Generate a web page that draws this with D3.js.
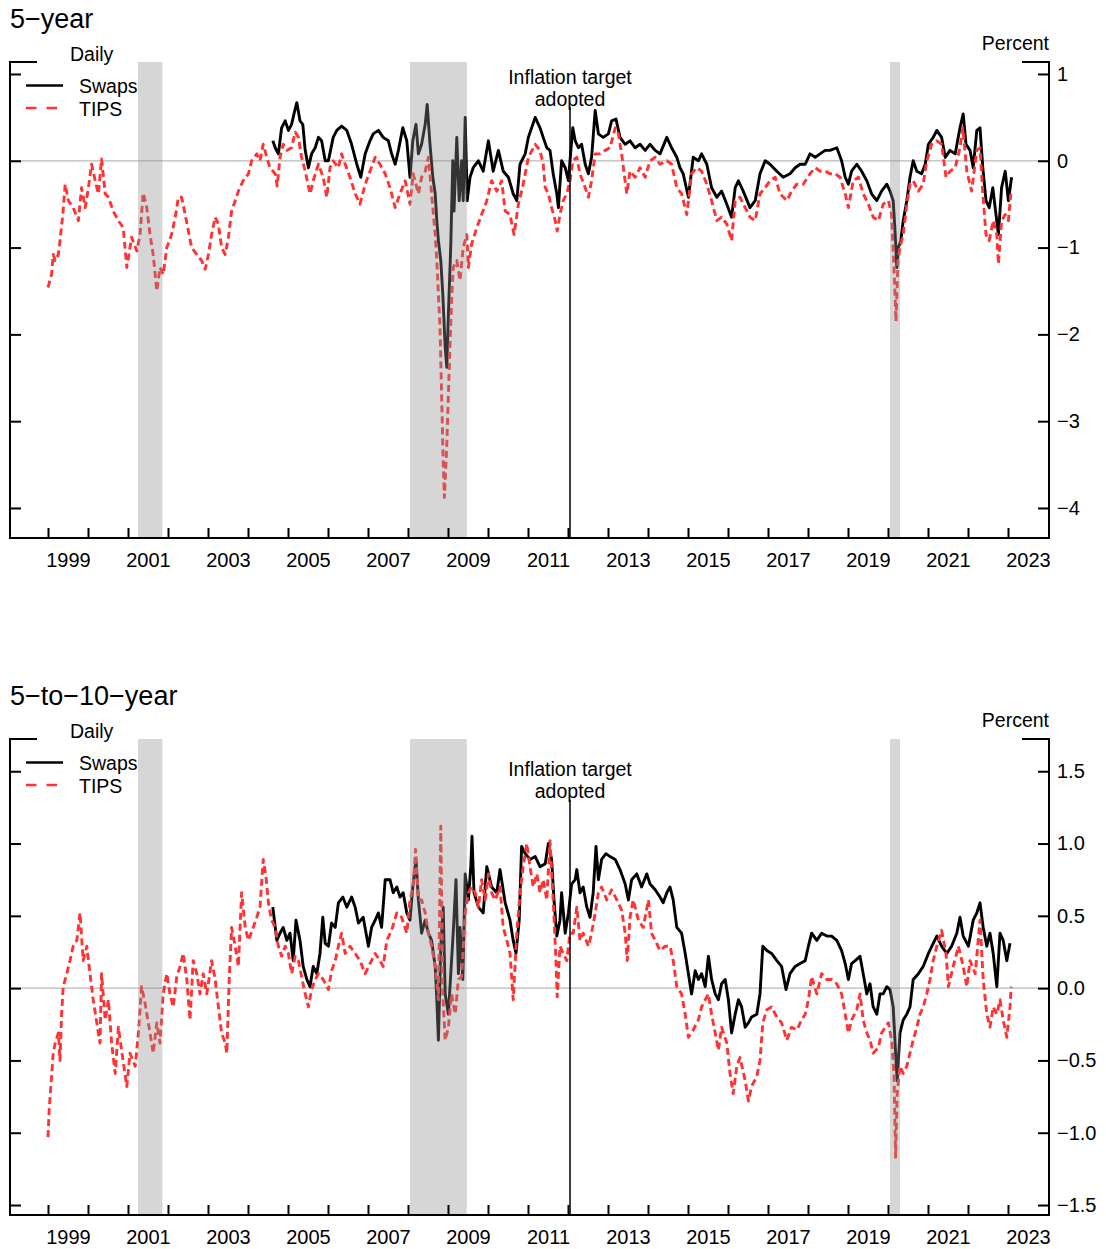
<!DOCTYPE html>
<html>
<head>
<meta charset="utf-8">
<script src="https://cdn.jsdelivr.net/npm/d3@7"></script>
<style>
  html, body { margin: 0; padding: 0; background: #fff; }
  svg { display: block; font-family: "Liberation Sans", Arial, Helvetica, sans-serif; }
</style>
</head>
<body>
<script>
// Inflation compensation, daily, decimal-year dates: [year, percent]
const swaps5 = [
  [2004.62,0.23],[2004.68,0.15],[2004.76,0.08],[2004.84,0.38],[2004.93,0.46],[2005.01,0.35],[2005.09,0.42],[2005.15,0.54],[2005.22,0.67],[2005.30,0.46],[2005.37,0.42],[2005.43,0.12],[2005.51,-0.08],[2005.59,0.08],[2005.68,0.15],[2005.76,0.27],[2005.84,0.23],[2005.93,0],[2006.01,0],[2006.13,0.27],[2006.22,0.35],[2006.34,0.40],[2006.47,0.35],[2006.59,0.19],[2006.72,-0.04],[2006.82,-0.19],[2006.93,0.08],[2007.05,0.23],[2007.13,0.31],[2007.26,0.35],[2007.38,0.27],[2007.51,0.23],[2007.59,0.08],[2007.68,-0.04],[2007.76,0.12],[2007.87,0.38],[2007.97,0.23],[2008.05,-0.19],[2008.12,0.23],[2008.20,0.42],[2008.26,0.08],[2008.34,0.19],[2008.43,0.42],[2008.48,0.65],[2008.55,0.19],[2008.62,-0.19],[2008.68,-0.38],[2008.72,-0.69],[2008.76,-0.92],[2008.82,-1.15],[2008.87,-1.54],[2008.93,-2.15],[2008.97,-2.38],[2009.01,-1.77],[2009.07,-0.96],[2009.12,0],[2009.15,-0.58],[2009.22,0.27],[2009.28,-0.46],[2009.34,0],[2009.38,-0.46],[2009.43,0.5],[2009.48,-0.46],[2009.55,-0.19],[2009.63,-0.08],[2009.76,0],[2009.88,-0.12],[2010.01,0.23],[2010.13,-0.12],[2010.26,0.12],[2010.38,-0.12],[2010.51,-0.19],[2010.63,-0.38],[2010.72,-0.46],[2010.80,-0.04],[2010.93,0.08],[2011.01,0.27],
  [2011.18,0.5],[2011.30,0.38],[2011.38,0.27],[2011.47,0.15],[2011.55,0.12],[2011.63,-0.15],[2011.72,-0.38],[2011.76,-0.54],[2011.84,0],[2011.93,-0.08],[2012.01,-0.23],[2012.05,0],[2012.12,0.38],[2012.18,0.23],[2012.26,0.15],[2012.34,0.19],[2012.43,-0.04],[2012.51,-0.15],[2012.59,0.04],[2012.68,0.58],[2012.76,0.31],[2012.88,0.27],[2013.01,0.31],[2013.09,0.46],[2013.20,0.48],[2013.30,0.27],[2013.43,0.19],[2013.55,0.23],[2013.68,0.15],[2013.80,0.19],[2013.93,0.12],[2014.05,0.19],[2014.18,0.12],[2014.30,0.08],[2014.47,0.27],[2014.59,0.15],[2014.72,0.04],[2014.80,-0.08],[2014.88,-0.15],[2015.01,-0.42],[2015.13,0.04],[2015.26,0],[2015.34,0.08],[2015.47,-0.04],[2015.59,-0.31],[2015.72,-0.42],[2015.84,-0.35],[2015.97,-0.5],[2016.09,-0.65],[2016.18,-0.31],[2016.26,-0.23],[2016.38,-0.35],[2016.55,-0.54],[2016.68,-0.46],[2016.80,-0.15],[2016.93,0],[2017.05,-0.04],[2017.22,-0.12],[2017.38,-0.19],[2017.55,-0.15],[2017.68,-0.08],[2017.80,-0.04],[2017.93,-0.04],[2018.05,0.08],[2018.18,0.04],[2018.30,0.08],[2018.43,0.12],[2018.55,0.12],[2018.72,0.15],[2018.84,0],[2018.93,-0.19],[2019.01,-0.27],[2019.09,-0.12],[2019.22,-0.04],[2019.34,-0.12],[2019.47,-0.23],[2019.59,-0.38],[2019.72,-0.46],[2019.84,-0.35],[2019.97,-0.27],[2020.05,-0.35],[2020.13,-0.46],[2020.18,-0.85],[2020.22,-1.23],[2020.26,-1.0],[2020.32,-0.92],[2020.38,-0.69],[2020.47,-0.46],[2020.55,-0.19],[2020.63,0],[2020.72,-0.12],[2020.84,-0.15],[2020.93,-0.04],[2021.01,0.19],[2021.13,0.27],[2021.22,0.35],[2021.34,0.27],[2021.43,0.04],[2021.55,0.12],[2021.68,0.08],[2021.80,0.38],[2021.88,0.54],[2021.95,0.19],[2022.05,0.12],[2022.13,-0.08],[2022.22,0.35],[2022.30,0.38],[2022.37,-0.08],[2022.45,-0.46],[2022.53,-0.54],[2022.62,-0.31],[2022.70,-0.62],[2022.76,-0.85],[2022.84,-0.31],[2022.93,-0.12],[2023.01,-0.46],[2023.09,-0.19]
];

const tips5 = [
  [1999.00,-1.46],[1999.09,-1.31],[1999.13,-1.08],[1999.18,-1.15],[1999.26,-1.08],[1999.30,-0.92],[1999.37,-0.62],[1999.43,-0.27],[1999.51,-0.46],[1999.63,-0.54],[1999.76,-0.69],[1999.84,-0.31],[1999.93,-0.54],[2000.01,-0.31],[2000.09,-0.04],[2000.18,-0.23],[2000.26,-0.38],[2000.34,0.02],[2000.43,-0.38],[2000.51,-0.42],[2000.63,-0.58],[2000.76,-0.69],[2000.88,-0.77],[2000.97,-1.23],[2001.09,-0.88],[2001.22,-1.04],[2001.30,-0.85],[2001.38,-0.37],[2001.47,-0.54],[2001.55,-0.85],[2001.63,-1.08],[2001.72,-1.5],[2001.80,-1.23],[2001.88,-1.31],[2001.97,-1.0],[2002.09,-0.85],[2002.18,-0.65],[2002.26,-0.42],[2002.34,-0.42],[2002.43,-0.62],[2002.51,-0.81],[2002.59,-1.0],[2002.72,-1.08],[2002.84,-1.15],[2002.93,-1.25],[2003.01,-1.08],[2003.09,-0.85],[2003.18,-0.65],[2003.26,-0.73],[2003.34,-1.0],[2003.43,-1.08],[2003.51,-0.88],[2003.59,-0.58],[2003.68,-0.46],[2003.76,-0.35],[2003.88,-0.23],[2004.01,-0.15],[2004.09,0.0],[2004.22,0.08],[2004.30,0.0],[2004.38,0.19],[2004.47,0.04],[2004.55,-0.08],[2004.68,-0.15],[2004.73,-0.29],[2004.80,0.04],[2004.88,0.19],[2004.97,0.12],[2005.09,0.15],[2005.18,0.33],[2005.26,0.27],[2005.34,0.04],[2005.43,-0.12],[2005.55,-0.38],[2005.63,-0.23],[2005.76,-0.04],[2005.88,-0.19],[2005.97,-0.42],[2006.05,-0.08],[2006.13,0],[2006.26,-0.08],[2006.34,0.08],[2006.43,-0.04],[2006.55,-0.19],[2006.68,-0.38],[2006.80,-0.5],[2006.93,-0.27],[2007.05,-0.12],[2007.18,0.04],[2007.30,-0.04],[2007.43,-0.15],[2007.55,-0.31],[2007.68,-0.54],[2007.80,-0.38],[2007.93,-0.23],[2008.05,-0.5],[2008.13,-0.15],[2008.26,-0.38],[2008.34,-0.19],[2008.43,-0.12],[2008.51,0.04],[2008.59,-0.38],[2008.68,-0.85],[2008.72,-1.15],[2008.76,-1.54],[2008.80,-1.92],[2008.84,-2.69],[2008.88,-3.46],[2008.91,-3.88],[2008.97,-3.27],[2009.01,-2.69],[2009.05,-2.12],[2009.09,-1.62],[2009.13,-1.23],[2009.22,-1.15],[2009.30,-1.38],[2009.38,-1.0],[2009.47,-0.85],[2009.51,-1.23],[2009.59,-0.96],[2009.72,-0.77],[2009.84,-0.62],[2009.97,-0.46],[2010.09,-0.23],[2010.22,-0.35],[2010.34,-0.23],[2010.43,-0.58],[2010.55,-0.62],[2010.65,-0.85],[2010.76,-0.5],[2010.88,-0.27],[2011.01,0.04],
  [2011.18,0.19],[2011.30,0.12],[2011.38,-0.04],[2011.43,-0.31],[2011.51,-0.38],[2011.59,-0.54],[2011.68,-0.69],[2011.73,-0.81],[2011.80,-0.62],[2011.88,-0.46],[2011.97,-0.38],[2012.05,-0.23],[2012.12,0],[2012.22,0.04],[2012.30,-0.15],[2012.43,-0.31],[2012.51,-0.42],[2012.59,-0.23],[2012.68,0.08],[2012.80,0.08],[2012.93,0.12],[2013.05,0.15],[2013.18,0.38],[2013.26,0.31],[2013.34,0.08],[2013.47,-0.38],[2013.55,-0.12],[2013.68,-0.19],[2013.80,-0.08],[2013.93,-0.19],[2014.05,0],[2014.18,0.04],[2014.30,-0.04],[2014.47,0],[2014.59,-0.04],[2014.72,-0.31],[2014.84,-0.38],[2014.97,-0.62],[2015.09,-0.15],[2015.22,-0.08],[2015.34,-0.12],[2015.47,-0.27],[2015.59,-0.46],[2015.72,-0.69],[2015.84,-0.65],[2015.97,-0.73],[2016.09,-0.92],[2016.18,-0.46],[2016.30,-0.42],[2016.43,-0.54],[2016.55,-0.65],[2016.68,-0.69],[2016.80,-0.38],[2016.93,-0.31],[2017.05,-0.23],[2017.18,-0.19],[2017.30,-0.38],[2017.47,-0.46],[2017.59,-0.35],[2017.72,-0.27],[2017.88,-0.27],[2018.05,-0.15],[2018.18,-0.08],[2018.30,-0.12],[2018.43,-0.12],[2018.55,-0.15],[2018.68,-0.15],[2018.80,-0.19],[2018.93,-0.38],[2019.01,-0.54],[2019.13,-0.23],[2019.26,-0.19],[2019.38,-0.38],[2019.51,-0.5],[2019.63,-0.65],[2019.76,-0.69],[2019.88,-0.5],[2020.01,-0.46],[2020.09,-0.62],[2020.15,-1.23],[2020.20,-1.85],[2020.25,-1.15],[2020.30,-1.0],[2020.38,-0.85],[2020.47,-0.5],[2020.55,-0.27],[2020.63,-0.23],[2020.76,-0.35],[2020.88,-0.27],[2020.97,0],[2021.09,0.19],[2021.22,0.23],[2021.34,0.19],[2021.45,-0.19],[2021.55,-0.12],[2021.68,-0.08],[2021.80,0.15],[2021.87,0.38],[2021.97,-0.12],[2022.09,-0.35],[2022.22,0.12],[2022.30,0.15],[2022.37,-0.38],[2022.45,-0.85],[2022.53,-0.92],[2022.63,-0.69],[2022.72,-0.85],[2022.76,-1.19],[2022.84,-0.69],[2022.93,-0.62],[2023.01,-0.69],[2023.07,-0.38]
];

const swaps510 = [
  [2004.62,0.56],[2004.72,0.33],[2004.80,0.38],[2004.88,0.42],[2004.97,0.33],[2005.05,0.38],[2005.13,0.19],[2005.20,0.47],[2005.30,0.33],[2005.38,0.15],[2005.47,0.06],[2005.55,0.01],[2005.63,0.15],[2005.72,0.1],[2005.80,0.24],[2005.87,0.49],[2005.93,0.31],[2006.01,0.29],[2006.09,0.45],[2006.18,0.42],[2006.26,0.59],[2006.37,0.63],[2006.47,0.56],[2006.59,0.63],[2006.68,0.56],[2006.76,0.45],[2006.88,0.49],[2007.01,0.29],[2007.09,0.42],[2007.18,0.47],[2007.26,0.52],[2007.34,0.42],[2007.43,0.75],[2007.55,0.75],[2007.63,0.66],[2007.72,0.7],[2007.80,0.63],[2007.88,0.66],[2007.97,0.52],[2008.05,0.47],[2008.12,0.7],[2008.20,0.89],[2008.26,0.61],[2008.34,0.38],[2008.43,0.47],[2008.51,0.38],[2008.59,0.33],[2008.68,0.15],[2008.72,-0.08],[2008.76,-0.36],[2008.82,0.29],[2008.88,0.56],[2008.93,-0.04],[2009.01,-0.18],[2009.05,0.01],[2009.13,0.38],[2009.20,0.75],[2009.26,0.1],[2009.30,0.42],[2009.37,0.06],[2009.43,0.79],[2009.51,0.61],[2009.57,0.84],[2009.60,1.05],[2009.65,0.66],[2009.76,0.56],[2009.88,0.52],[2009.97,0.84],[2010.09,0.7],[2010.22,0.66],[2010.30,0.82],[2010.43,0.59],[2010.55,0.47],[2010.63,0.33],[2010.70,0.24],[2010.78,0.47],[2010.84,0.98],[2010.93,0.93],
  [2011.05,0.89],[2011.18,0.91],[2011.30,0.84],[2011.43,0.86],[2011.51,1.0],[2011.59,0.89],[2011.65,0.61],[2011.72,0.36],[2011.80,0.47],[2011.84,0.66],[2011.93,0.38],[2012.01,0.52],[2012.09,0.72],[2012.18,0.75],[2012.22,0.82],[2012.30,0.66],[2012.38,0.7],[2012.47,0.56],[2012.55,0.49],[2012.63,0.66],[2012.70,0.98],[2012.76,0.75],[2012.84,0.89],[2012.95,0.93],[2013.05,0.91],[2013.18,0.89],[2013.30,0.82],[2013.43,0.72],[2013.51,0.61],[2013.59,0.75],[2013.72,0.79],[2013.84,0.7],[2013.97,0.79],[2014.05,0.72],[2014.18,0.68],[2014.30,0.63],[2014.38,0.59],[2014.47,0.66],[2014.55,0.7],[2014.63,0.61],[2014.72,0.42],[2014.84,0.38],[2014.93,0.24],[2015.01,0.1],[2015.09,-0.04],[2015.18,0.12],[2015.26,0.06],[2015.34,0.1],[2015.43,0.01],[2015.51,0.22],[2015.59,0.06],[2015.68,-0.04],[2015.76,-0.08],[2015.84,0.03],[2015.93,0.06],[2016.01,-0.08],[2016.09,-0.31],[2016.18,-0.18],[2016.26,-0.08],[2016.34,-0.13],[2016.43,-0.27],[2016.51,-0.24],[2016.59,-0.2],[2016.72,-0.18],[2016.80,-0.04],[2016.87,0.29],[2016.97,0.26],[2017.09,0.24],[2017.22,0.19],[2017.34,0.15],[2017.45,-0.01],[2017.55,0.1],[2017.68,0.15],[2017.80,0.17],[2017.93,0.19],[2018.01,0.29],[2018.09,0.38],[2018.22,0.33],[2018.34,0.38],[2018.47,0.36],[2018.59,0.36],[2018.72,0.33],[2018.84,0.26],[2018.93,0.17],[2019.01,0.06],[2019.09,0.17],[2019.18,0.19],[2019.30,0.22],[2019.38,0.1],[2019.47,-0.04],[2019.55,0.03],[2019.63,-0.13],[2019.72,-0.18],[2019.80,-0.04],[2019.88,-0.04],[2019.97,0.01],[2020.05,-0.01],[2020.13,-0.13],[2020.19,-0.45],[2020.23,-0.64],[2020.30,-0.31],[2020.38,-0.22],[2020.47,-0.18],[2020.55,-0.13],[2020.63,0.06],[2020.76,0.1],[2020.88,0.15],[2021.01,0.24],[2021.13,0.31],[2021.22,0.36],[2021.34,0.29],[2021.47,0.24],[2021.59,0.29],[2021.72,0.38],[2021.80,0.49],[2021.88,0.36],[2022.01,0.29],[2022.13,0.47],[2022.22,0.52],[2022.30,0.59],[2022.38,0.42],[2022.47,0.29],[2022.55,0.38],[2022.63,0.24],[2022.72,0.01],[2022.80,0.38],[2022.88,0.33],[2022.97,0.19],[2023.05,0.31]
];

const tips510 = [
  [1999.00,-1.03],[1999.03,-0.84],[1999.09,-0.61],[1999.13,-0.45],[1999.18,-0.38],[1999.26,-0.31],[1999.30,-0.5],[1999.34,-0.18],[1999.38,0.01],[1999.47,0.1],[1999.55,0.19],[1999.63,0.29],[1999.72,0.33],[1999.80,0.52],[1999.88,0.19],[1999.97,0.29],[2000.05,0.1],[2000.13,-0.08],[2000.22,-0.24],[2000.30,-0.38],[2000.34,0.1],[2000.43,-0.22],[2000.51,-0.08],[2000.59,-0.38],[2000.68,-0.59],[2000.76,-0.27],[2000.84,-0.43],[2000.97,-0.68],[2001.05,-0.45],[2001.18,-0.54],[2001.26,-0.31],[2001.34,0.01],[2001.43,-0.11],[2001.55,-0.31],[2001.63,-0.45],[2001.72,-0.24],[2001.80,-0.38],[2001.88,-0.04],[2001.97,0.1],[2002.05,-0.04],[2002.13,-0.13],[2002.22,0.08],[2002.30,0.15],[2002.38,0.24],[2002.47,0.06],[2002.55,-0.22],[2002.63,0.19],[2002.72,0.1],[2002.80,-0.04],[2002.88,0.1],[2002.97,-0.04],[2003.09,0.19],[2003.18,0.06],[2003.26,-0.13],[2003.34,-0.31],[2003.43,-0.38],[2003.47,-0.45],[2003.53,0.06],[2003.59,0.42],[2003.68,0.29],[2003.76,0.15],[2003.84,0.66],[2003.93,0.42],[2004.01,0.33],[2004.13,0.42],[2004.22,0.49],[2004.30,0.56],[2004.38,0.89],[2004.45,0.77],[2004.51,0.59],[2004.59,0.47],[2004.68,0.42],[2004.76,0.29],[2004.84,0.22],[2004.93,0.29],[2005.01,0.24],[2005.09,0.1],[2005.18,0.22],[2005.26,0.19],[2005.34,0.08],[2005.43,-0.04],[2005.51,-0.13],[2005.59,-0.01],[2005.68,0.06],[2005.76,0.1],[2005.88,0.06],[2006.01,-0.01],[2006.09,0.12],[2006.18,0.19],[2006.26,0.29],[2006.34,0.38],[2006.43,0.24],[2006.55,0.29],[2006.68,0.24],[2006.80,0.19],[2006.93,0.1],[2007.05,0.17],[2007.18,0.24],[2007.30,0.19],[2007.38,0.15],[2007.47,0.33],[2007.59,0.4],[2007.72,0.52],[2007.84,0.49],[2007.97,0.38],[2008.05,0.61],[2008.13,0.7],[2008.19,0.96],[2008.26,0.61],[2008.34,0.61],[2008.43,0.52],[2008.51,0.38],[2008.59,0.29],[2008.68,0.15],[2008.76,-0.08],[2008.82,1.12],[2008.87,-0.04],[2008.93,-0.36],[2009.01,-0.27],[2009.09,-0.04],[2009.18,-0.18],[2009.26,0.06],[2009.34,0.08],[2009.43,0.52],[2009.51,0.66],[2009.59,0.7],[2009.68,0.66],[2009.76,0.56],[2009.84,0.75],[2009.93,0.61],[2010.01,0.79],[2010.09,0.66],[2010.18,0.61],[2010.30,0.7],[2010.38,0.42],[2010.47,0.33],[2010.55,0.24],[2010.63,-0.08],[2010.72,0.38],[2010.80,0.66],[2010.88,0.84],[2010.97,1.0],
  [2011.05,0.84],[2011.13,0.7],[2011.22,0.79],[2011.30,0.66],[2011.38,0.75],[2011.47,0.61],[2011.55,1.02],[2011.63,0.61],[2011.70,0.19],[2011.73,-0.06],[2011.80,0.29],[2011.88,0.24],[2011.97,0.19],[2012.05,0.38],[2012.13,0.38],[2012.22,0.56],[2012.30,0.33],[2012.38,0.38],[2012.51,0.29],[2012.59,0.38],[2012.68,0.52],[2012.76,0.66],[2012.84,0.7],[2012.97,0.61],[2013.09,0.68],[2013.22,0.61],[2013.34,0.54],[2013.43,0.38],[2013.48,0.19],[2013.55,0.49],[2013.63,0.61],[2013.76,0.47],[2013.88,0.42],[2014.01,0.61],[2014.09,0.38],[2014.18,0.33],[2014.30,0.26],[2014.43,0.29],[2014.55,0.29],[2014.63,0.19],[2014.72,0.01],[2014.84,-0.04],[2014.93,-0.18],[2015.01,-0.34],[2015.13,-0.29],[2015.26,-0.22],[2015.34,-0.13],[2015.43,-0.08],[2015.51,-0.04],[2015.59,-0.18],[2015.68,-0.31],[2015.76,-0.43],[2015.84,-0.27],[2015.97,-0.38],[2016.05,-0.59],[2016.13,-0.73],[2016.22,-0.54],[2016.30,-0.48],[2016.43,-0.64],[2016.51,-0.78],[2016.59,-0.68],[2016.72,-0.61],[2016.80,-0.5],[2016.87,-0.24],[2016.97,-0.15],[2017.09,-0.13],[2017.22,-0.2],[2017.34,-0.24],[2017.47,-0.36],[2017.59,-0.27],[2017.72,-0.29],[2017.84,-0.22],[2017.93,-0.18],[2018.01,-0.08],[2018.09,0.08],[2018.22,-0.04],[2018.34,0.1],[2018.47,0.06],[2018.59,0.06],[2018.72,0.03],[2018.84,-0.04],[2018.93,-0.18],[2019.01,-0.31],[2019.09,-0.22],[2019.22,-0.15],[2019.30,-0.04],[2019.38,-0.22],[2019.47,-0.31],[2019.55,-0.36],[2019.63,-0.45],[2019.76,-0.41],[2019.84,-0.31],[2019.93,-0.27],[2020.01,-0.24],[2020.09,-0.36],[2020.15,-0.59],[2020.19,-1.17],[2020.23,-0.73],[2020.30,-0.54],[2020.38,-0.59],[2020.47,-0.54],[2020.55,-0.45],[2020.63,-0.36],[2020.72,-0.27],[2020.80,-0.18],[2020.88,-0.13],[2020.97,-0.04],[2021.05,0.06],[2021.13,0.19],[2021.22,0.29],[2021.34,0.4],[2021.45,0.24],[2021.51,0.01],[2021.63,0.15],[2021.76,0.29],[2021.88,0.15],[2021.97,0.01],[2022.05,0.19],[2022.18,0.1],[2022.30,0.47],[2022.38,0.06],[2022.47,-0.18],[2022.55,-0.27],[2022.63,-0.13],[2022.72,-0.18],[2022.80,-0.08],[2022.88,-0.22],[2022.97,-0.34],[2023.05,-0.13],[2023.08,0.01]
];

// NBER recessions (start, end) in decimal years
const recessions = [[2001.25, 2001.86], [2008.05, 2009.47], [2020.05, 2020.30]];
// Date the inflation target was adopted
const targetDate = 2012.05;

const yearTicks = d3.range(1999, 2024);               // tick marks at each year start
const yearLabels = d3.range(1999, 2024, 2);           // labels on odd years, centred in the year
const ticks5 = [1, 0, -1, -2, -3, -4];
const ticks510 = [1.5, 1.0, 0.5, 0.0, -0.5, -1.0, -1.5];

const W = 1106, H = 1249;
const LEFT = 10, RIGHT = 1049, PANEL_H = 476;
const RED = "#ff3333";
const LINE_W = 2.9;
const minus = s => s.replace("-", "\u2212");

const svg = d3.select("body").append("svg")
  .attr("width", W).attr("height", H)
  .attr("viewBox", `0 0 ${W} ${H}`);

const x = d3.scaleLinear().domain([1998.05, 2024.025]).range([LEFT, RIGHT]);

function drawPanel(opt) {
  const top = opt.top, bottom = top + PANEL_H;
  const y = d3.scaleLinear().domain(opt.domain).range([bottom, top]);
  const g = svg.append("g");

  // zero reference line
  g.append("line")
    .attr("x1", LEFT).attr("x2", RIGHT)
    .attr("y1", y(0)).attr("y2", y(0))
    .attr("stroke", "#b8b8b8").attr("stroke-width", 1.3);

  const line = d3.line().x(d => x(d[0])).y(d => y(d[1]));

  g.append("path").datum(opt.swaps)
    .attr("d", line).attr("fill", "none")
    .attr("stroke", "#000").attr("stroke-width", LINE_W)
    .attr("stroke-linejoin", "round");

  g.append("path").datum(opt.tips)
    .attr("d", line).attr("fill", "none")
    .attr("stroke", RED).attr("stroke-width", LINE_W)
    .attr("stroke-dasharray", "7,4")
    .attr("stroke-linejoin", "round");

  // recession shading, translucent over the lines
  g.selectAll("rect.rec").data(recessions).join("rect")
    .attr("class", "rec")
    .attr("x", d => x(d[0])).attr("width", d => x(d[1]) - x(d[0]))
    .attr("y", top).attr("height", PANEL_H)
    .attr("fill", "rgba(140,140,140,0.36)");

  // inflation target marker
  g.append("line")
    .attr("x1", x(targetDate)).attr("x2", x(targetDate))
    .attr("y1", opt.markTop).attr("y2", bottom)
    .attr("stroke", "#000").attr("stroke-width", 1.5);
  g.append("text").attr("x", x(targetDate)).attr("y", opt.annoY)
    .attr("text-anchor", "middle").attr("font-size", 19.5).text("Inflation target");
  g.append("text").attr("x", x(targetDate)).attr("y", opt.annoY + 22.5)
    .attr("text-anchor", "middle").attr("font-size", 19.5).text("adopted");

  // axes: inward ticks
  const styleAxis = sel => {
    sel.select(".domain").remove();
    sel.selectAll(".tick line").attr("stroke-width", 2);
    sel.selectAll(".tick text").attr("font-size", 20).attr("fill", "#000")
      .attr("font-family", "'Liberation Sans', Arial, Helvetica, sans-serif");
  };

  g.append("g").attr("transform", `translate(${LEFT},0)`)
    .call(d3.axisLeft(y).tickValues(opt.ticks).tickSize(-11).tickFormat(""))
    .call(styleAxis);

  g.append("g").attr("transform", `translate(${RIGHT},0)`)
    .call(d3.axisRight(y).tickValues(opt.ticks).tickSize(-11).tickPadding(8)
      .tickFormat(d => minus(opt.fmt(d))))
    .call(styleAxis);

  g.append("g").attr("transform", `translate(0,${bottom})`)
    .call(d3.axisBottom(x).tickValues(yearTicks).tickSize(-10).tickFormat(""))
    .call(styleAxis);

  g.append("g").attr("transform", `translate(0,${bottom})`)
    .call(d3.axisBottom(x).tickValues(yearLabels.map(v => v + 0.5)).tickSize(0).tickPadding(15)
      .tickFormat(d => String(Math.floor(d))))
    .call(styleAxis);

  // frame
  const frame = g.append("g").attr("stroke", "#000").attr("stroke-width", 2).attr("fill", "none");
  frame.append("path").attr("d", `M${LEFT + 26},${top}H${LEFT}V${bottom}H${RIGHT}V${top}H${RIGHT - 26}`)
    .attr("stroke-linecap", "square");

  // titles
  svg.append("text").attr("x", 10).attr("y", top - 34).attr("font-size", 27).text(opt.title);
  svg.append("text").attr("x", 70).attr("y", top - 1).attr("font-size", 19.5).text("Daily");
  svg.append("text").attr("x", RIGHT).attr("y", top - 12).attr("text-anchor", "end")
    .attr("font-size", 19.5).text("Percent");

  // legend
  const lg = svg.append("g");
  lg.append("line").attr("x1", 26).attr("x2", 63).attr("y1", top + 23.5).attr("y2", top + 23.5)
    .attr("stroke", "#000").attr("stroke-width", 2.6);
  lg.append("line").attr("x1", 26).attr("x2", 58).attr("y1", top + 46).attr("y2", top + 46)
    .attr("stroke", RED).attr("stroke-width", 2.6).attr("stroke-dasharray", "10.5,10");
  lg.append("text").attr("x", 79).attr("y", top + 31).attr("font-size", 19.5).text("Swaps");
  lg.append("text").attr("x", 79).attr("y", top + 54).attr("font-size", 19.5).text("TIPS");
}

drawPanel({
  title: "5\u2212year", top: 62, domain: [-4.346, 1.138],
  ticks: ticks5, fmt: d3.format("d"),
  swaps: swaps5, tips: tips5, annoY: 83.5, markTop: 107
});

drawPanel({
  title: "5\u2212to\u221210\u2212year", top: 739, domain: [-1.569, 1.723],
  ticks: ticks510, fmt: d3.format(".1f"),
  swaps: swaps510, tips: tips510, annoY: 775.5, markTop: 800
});
</script>
</body>
</html>
